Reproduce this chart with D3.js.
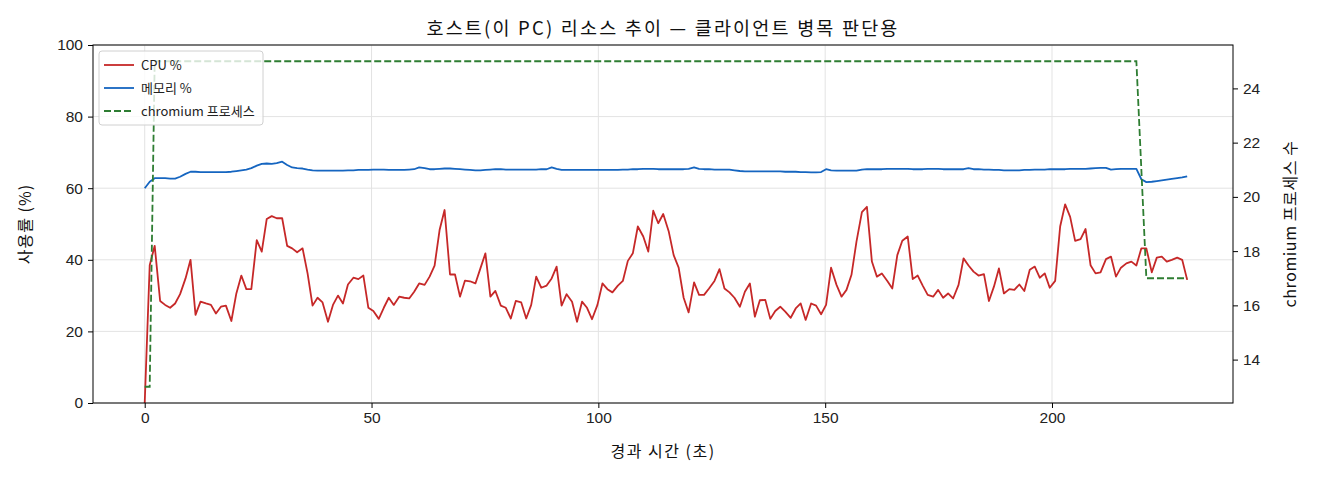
<!DOCTYPE html>
<html>
<head>
<meta charset="utf-8">
<script src="https://cdn.jsdelivr.net/npm/d3@7"></script>
<style>
  body { margin: 0; background: #fff; }
  svg { display: block; font-family: "Noto Sans CJK KR", "Noto Sans", sans-serif; }
  .tick text { font-size: 15.5px; fill: #222; }
</style>
</head>
<body>
<svg id="chart" width="1320" height="480"></svg>
<script>
// ---------------- 데이터 ----------------
const elapsed = [
  0.0, 1.1, 2.2, 3.4, 4.5, 5.6, 6.7, 7.8, 9.0, 10.1,
  11.2, 12.3, 13.5, 14.6, 15.7, 16.8, 17.9, 19.1, 20.2, 21.3,
  22.4, 23.5, 24.7, 25.8, 26.9, 28.0, 29.1, 30.3, 31.4, 32.5,
  33.6, 34.8, 35.9, 37.0, 38.1, 39.2, 40.4, 41.5, 42.6, 43.7,
  44.8, 46.0, 47.1, 48.2, 49.3, 50.4, 51.6, 52.7, 53.8, 54.9,
  56.1, 57.2, 58.3, 59.4, 60.5, 61.7, 62.8, 63.9, 65.0, 66.1,
  67.3, 68.4, 69.5, 70.6, 71.7, 72.9, 74.0, 75.1, 76.2, 77.3,
  78.5, 79.6, 80.7, 81.8, 83.0, 84.1, 85.2, 86.3, 87.4, 88.6,
  89.7, 90.8, 91.9, 93.0, 94.2, 95.3, 96.4, 97.5, 98.6, 99.8,
  100.9, 102.0, 103.1, 104.3, 105.4, 106.5, 107.6, 108.7, 109.9, 111.0,
  112.1, 113.2, 114.3, 115.5, 116.6, 117.7, 118.8, 119.9, 121.1, 122.2,
  123.3, 124.4, 125.6, 126.7, 127.8, 128.9, 130.0, 131.2, 132.3, 133.4,
  134.5, 135.6, 136.8, 137.9, 139.0, 140.1, 141.2, 142.4, 143.5, 144.6,
  145.7, 146.9, 148.0, 149.1, 150.2, 151.3, 152.5, 153.6, 154.7, 155.8,
  156.9, 158.1, 159.2, 160.3, 161.4, 162.5, 163.7, 164.8, 165.9, 167.0,
  168.2, 169.3, 170.4, 171.5, 172.6, 173.8, 174.9, 176.0, 177.1, 178.2,
  179.4, 180.5, 181.6, 182.7, 183.8, 185.0, 186.1, 187.2, 188.3, 189.4,
  190.6, 191.7, 192.8, 193.9, 195.1, 196.2, 197.3, 198.4, 199.5, 200.7,
  201.8, 202.9, 204.0, 205.1, 206.3, 207.4, 208.5, 209.6, 210.7, 211.9,
  213.0, 214.1, 215.2, 216.4, 217.5, 218.6, 219.7, 220.8, 222.0, 223.1,
  224.2, 225.3, 226.4, 227.6, 228.7, 229.8
];

const cpuPct = [
  0, 38.5, 43.9, 28.5, 27.4, 26.6, 27.8, 30.4, 34.8, 40.0,
  24.6, 28.3, 27.8, 27.4, 25.0, 26.9, 27.2, 22.9, 30.6, 35.6,
  31.8, 31.8, 45.5, 42.3, 51.4, 52.2, 51.6, 51.6, 43.9, 43.2,
  42.1, 43.2, 36.2, 27.2, 29.4, 28.1, 22.7, 27.4, 30.0, 27.8,
  33.1, 35.0, 34.6, 35.6, 26.6, 25.7, 23.5, 26.6, 29.4, 27.4,
  29.7, 29.4, 29.2, 31.1, 33.4, 33.0, 35.3, 38.4, 48.3, 53.9,
  35.9, 35.9, 29.7, 34.2, 34.0, 33.4, 37.6, 41.8, 29.7, 31.3,
  27.2, 26.6, 23.6, 28.5, 28.1, 23.6, 27.4, 35.3, 32.2, 32.8,
  34.8, 38.1, 27.2, 30.4, 28.3, 22.7, 28.3, 26.6, 23.4, 27.4,
  33.4, 31.8, 30.9, 32.8, 34.1, 39.7, 41.8, 49.3, 46.5, 42.3,
  53.7, 50.2, 52.8, 48.0, 41.3, 37.8, 29.4, 25.3, 33.7, 30.2,
  30.2, 32.0, 34.1, 37.4, 32.0, 30.9, 29.4, 26.9, 31.1, 33.4,
  24.1, 28.7, 28.8, 23.5, 25.7, 26.9, 25.5, 23.8, 26.4, 27.8,
  23.2, 27.8, 27.2, 24.8, 27.4, 37.8, 33.0, 29.7, 31.6, 35.8,
  45.1, 53.3, 54.8, 39.5, 35.3, 36.2, 34.1, 32.0, 41.3, 45.3,
  46.5, 34.6, 35.6, 32.8, 30.2, 29.7, 31.6, 29.4, 30.6, 29.2,
  33.0, 40.4, 38.4, 36.7, 35.6, 36.0, 28.5, 32.5, 37.6, 30.6,
  31.8, 31.6, 33.1, 31.3, 37.2, 38.1, 35.0, 36.2, 32.2, 34.1,
  49.3, 55.5, 52.0, 45.3, 45.8, 48.6, 38.5, 36.2, 36.5, 40.2,
  40.9, 35.3, 37.8, 39.0, 39.5, 38.4, 43.2, 43.2, 36.5, 40.6,
  40.9, 39.5, 40.0, 40.6, 40.0, 34.4
];

const memPct = [
  60.0, 61.8, 62.8, 62.8, 62.8, 62.7, 62.7, 63.2, 64.0, 64.6,
  64.6, 64.5, 64.5, 64.5, 64.5, 64.5, 64.5, 64.6, 64.8, 65.0,
  65.2, 65.6, 66.3, 66.8, 66.9, 66.8, 67.0, 67.4, 66.5, 65.8,
  65.6, 65.5, 65.2, 65.0, 64.9, 64.9, 64.9, 64.9, 64.9, 64.9,
  65.0, 65.0, 65.1, 65.1, 65.1, 65.2, 65.2, 65.2, 65.1, 65.1,
  65.1, 65.1, 65.2, 65.3, 65.8, 65.6, 65.3, 65.3, 65.4, 65.5,
  65.5, 65.4, 65.3, 65.2, 65.1, 65.0, 65.0, 65.1, 65.2, 65.3,
  65.3, 65.2, 65.2, 65.2, 65.2, 65.2, 65.2, 65.2, 65.3, 65.3,
  65.8, 65.4, 65.1, 65.1, 65.1, 65.1, 65.1, 65.1, 65.1, 65.1,
  65.1, 65.1, 65.1, 65.1, 65.2, 65.2, 65.3, 65.3, 65.4, 65.4,
  65.4, 65.3, 65.3, 65.3, 65.3, 65.3, 65.3, 65.4, 65.8, 65.4,
  65.3, 65.3, 65.2, 65.2, 65.2, 65.2, 65.0, 64.8, 64.7, 64.7,
  64.7, 64.7, 64.7, 64.7, 64.7, 64.7, 64.6, 64.6, 64.6, 64.5,
  64.5, 64.4, 64.4, 64.5, 65.3, 65.0, 64.9, 64.9, 64.9, 64.9,
  64.9, 65.2, 65.3, 65.3, 65.3, 65.3, 65.4, 65.4, 65.4, 65.4,
  65.4, 65.3, 65.3, 65.3, 65.4, 65.4, 65.4, 65.3, 65.3, 65.3,
  65.3, 65.3, 65.6, 65.3, 65.3, 65.2, 65.2, 65.1, 65.1, 65.0,
  65.0, 65.0, 65.0, 65.1, 65.1, 65.2, 65.2, 65.2, 65.3, 65.3,
  65.3, 65.3, 65.4, 65.4, 65.4, 65.4, 65.5, 65.6, 65.7, 65.7,
  65.2, 65.3, 65.4, 65.4, 65.4, 65.4, 62.5, 61.7, 61.8, 62.0,
  62.2, 62.4, 62.6, 62.8, 63.0, 63.3
];

const chromiumCount = [
  13, 13, 25, 25, 25, 25, 25, 25, 25, 25, 25, 25, 25, 25, 25, 25, 25, 25, 25, 25,
  25, 25, 25, 25, 25, 25, 25, 25, 25, 25, 25, 25, 25, 25, 25, 25, 25, 25, 25, 25,
  25, 25, 25, 25, 25, 25, 25, 25, 25, 25, 25, 25, 25, 25, 25, 25, 25, 25, 25, 25,
  25, 25, 25, 25, 25, 25, 25, 25, 25, 25, 25, 25, 25, 25, 25, 25, 25, 25, 25, 25,
  25, 25, 25, 25, 25, 25, 25, 25, 25, 25, 25, 25, 25, 25, 25, 25, 25, 25, 25, 25,
  25, 25, 25, 25, 25, 25, 25, 25, 25, 25, 25, 25, 25, 25, 25, 25, 25, 25, 25, 25,
  25, 25, 25, 25, 25, 25, 25, 25, 25, 25, 25, 25, 25, 25, 25, 25, 25, 25, 25, 25,
  25, 25, 25, 25, 25, 25, 25, 25, 25, 25, 25, 25, 25, 25, 25, 25, 25, 25, 25, 25,
  25, 25, 25, 25, 25, 25, 25, 25, 25, 25, 25, 25, 25, 25, 25, 25, 25, 25, 25, 25,
  25, 25, 25, 25, 25, 25, 25, 25, 25, 25, 25, 25, 25, 25, 25, 25, 21, 17, 17, 17,
  17, 17, 17, 17, 17, 17
];

const xTicks = [0, 50, 100, 150, 200];
const pctTicks = [0, 20, 40, 60, 80, 100];
const countTicks = [14, 16, 18, 20, 22, 24];

const seriesNames = ["CPU %", "메모리 %", "chromium 프로세스"];
const titleText = "호스트(이 PC) 리소스 추이 — 클라이언트 병목 판단용";

// ---------------- 레이아웃 ----------------
const svg = d3.select("#chart");
const box = { left: 93, right: 1233, top: 45, bottom: 403 };

const x = d3.scaleLinear().domain([-11.4, 239.9]).range([box.left, box.right]);
const yPct = d3.scaleLinear().domain([0, 100]).range([box.bottom, box.top]);
const yCnt = d3.scaleLinear().domain([12.4, 25.6]).range([box.bottom, box.top]);

const rows = elapsed.map((t, i) => ({ t, cpu: cpuPct[i], mem: memPct[i], chr: chromiumCount[i] }));

// grid
const grid = svg.append("g").attr("stroke", "#e3e3e3").attr("stroke-width", 1);
xTicks.forEach(v => grid.append("line")
  .attr("x1", x(v)).attr("x2", x(v)).attr("y1", box.top).attr("y2", box.bottom));
pctTicks.forEach(v => grid.append("line")
  .attr("x1", box.left).attr("x2", box.right).attr("y1", yPct(v)).attr("y2", yPct(v)));

// lines
const lineCpu = d3.line().x(d => x(d.t)).y(d => yPct(d.cpu));
const lineMem = d3.line().x(d => x(d.t)).y(d => yPct(d.mem));
const lineChr = d3.line().x(d => x(d.t)).y(d => yCnt(d.chr));

svg.append("path").datum(rows).attr("d", lineCpu)
  .attr("fill", "none").attr("stroke", "#c62828").attr("stroke-width", 1.8).attr("stroke-linejoin", "round");
svg.append("path").datum(rows).attr("d", lineMem)
  .attr("fill", "none").attr("stroke", "#1565c0").attr("stroke-width", 1.8).attr("stroke-linejoin", "round");
svg.append("path").datum(rows).attr("d", lineChr)
  .attr("fill", "none").attr("stroke", "#2e7d32").attr("stroke-width", 1.8)
  .attr("stroke-dasharray", "7,3");

// axes
svg.append("g").attr("transform", `translate(0,${box.bottom})`)
  .call(d3.axisBottom(x).tickValues(xTicks).tickSize(5).tickPadding(4).tickFormat(d3.format("d")))
  .call(g => g.select(".domain").remove());
svg.append("g").attr("transform", `translate(${box.left},0)`)
  .call(d3.axisLeft(yPct).tickValues(pctTicks).tickSize(5).tickPadding(5))
  .call(g => g.select(".domain").remove());
svg.append("g").attr("transform", `translate(${box.right},0)`)
  .call(d3.axisRight(yCnt).tickValues(countTicks).tickSize(5).tickPadding(5))
  .call(g => g.select(".domain").remove());

// frame
svg.append("rect")
  .attr("x", box.left).attr("y", box.top)
  .attr("width", box.right - box.left).attr("height", box.bottom - box.top)
  .attr("fill", "none").attr("stroke", "#000").attr("stroke-width", 1);

// labels
svg.append("text").attr("x", (box.left + box.right) / 2).attr("y", 35)
  .attr("text-anchor", "middle").attr("font-size", 18.5).attr("letter-spacing", 2.2)
  .attr("fill", "#111").text(titleText);
svg.append("text").attr("x", (box.left + box.right) / 2).attr("y", 457)
  .attr("text-anchor", "middle").attr("font-size", 16).attr("letter-spacing", 1.5)
  .attr("fill", "#111").text("경과 시간 (초)");
svg.append("text").attr("transform", `translate(31,${(box.top + box.bottom) / 2}) rotate(-90)`)
  .attr("text-anchor", "middle").attr("font-size", 16).attr("letter-spacing", 1)
  .attr("fill", "#111").text("사용률 (%)");
svg.append("text").attr("transform", `translate(1296,${(box.top + box.bottom) / 2}) rotate(-90)`)
  .attr("text-anchor", "middle").attr("font-size", 16).attr("letter-spacing", 0.6)
  .attr("fill", "#111").text("chromium 프로세스 수");

// legend
const lg = svg.append("g").attr("transform", "translate(99,51)");
lg.append("rect").attr("width", 164).attr("height", 74).attr("rx", 3)
  .attr("fill", "#fff").attr("fill-opacity", 0.8).attr("stroke", "#d0d0d0");
const legendStyles = [
  { color: "#c62828", dash: null },
  { color: "#1565c0", dash: null },
  { color: "#2e7d32", dash: "7,3" }
];
seriesNames.forEach((name, i) => {
  const yy = 14 + i * 23;
  lg.append("line").attr("x1", 5).attr("x2", 35).attr("y1", yy).attr("y2", yy)
    .attr("stroke", legendStyles[i].color).attr("stroke-width", 1.8)
    .attr("stroke-dasharray", legendStyles[i].dash);
  lg.append("text").attr("x", 42).attr("y", yy + 4.5).attr("font-size", 13).attr("fill", "#222").text(name);
});
</script>
</body>
</html>
